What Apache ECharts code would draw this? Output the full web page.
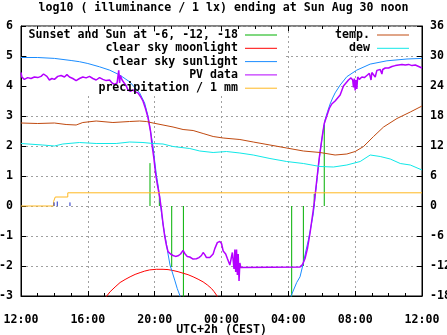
<!DOCTYPE html>
<html>
<head>
<meta charset="utf-8">
<script src="https://cdn.jsdelivr.net/npm/echarts@6/dist/echarts.min.js"></script>
<style>html,body{margin:0;padding:0;background:#fff}#c{width:447px;height:335px}</style>
</head>
<body>
<div id="c"></div>
<script>
// hours after 12:00 (Sat) -> value
const titleText = 'log10 ( illuminance / 1 lx) ending at Sun Aug 30 noon';
const xTickLabels = ['12:00','16:00','20:00','00:00','04:00','08:00','12:00'];
const xAxisName = 'UTC+2h (CEST)';

// sunset and sun at -6, -12, -18 (impulses from 0 to clear-sky value)
const sunEventHours = [7.72, 8.28, 9.02, 9.72, 16.2, 16.9, 17.55, 18.15];
const sunEventValues = [1.43, 0.45, -2.03, -3.5, -3.5, -2.0, 0.4, 2.7];

const moonData = [[5.0,-3.1],[5.13,-3.0],[5.33,-2.86],[5.63,-2.7],[5.93,-2.55],[6.23,-2.45],[6.53,-2.36],[6.83,-2.28],[7.13,-2.22],[7.4,-2.17],[7.7,-2.13],[8.1,-2.11],[8.5,-2.11],[8.8,-2.12],[9.1,-2.15],[9.4,-2.19],[9.7,-2.24],[10.0,-2.29],[10.3,-2.36],[10.6,-2.44],[10.9,-2.53],[11.15,-2.63],[11.4,-2.75],[11.55,-2.85],[11.7,-2.97],[11.8,-3.1]];

const sunEvening = [[0,4.95],[1,4.95],[2,4.92],[3,4.85],[3.5,4.81],[4,4.75],[4.7,4.64],[5.3,4.53],[5.9,4.37],[6.5,4.14],[7.1,3.77],[7.4,3.43],[7.6,3.0],[7.75,2.5],[7.9,2.0],[8.0,1.5],[8.1,1.05],[8.2,0.7],[8.3,0.3],[8.4,-0.2],[8.5,-0.6],[8.6,-0.95],[8.7,-1.25],[8.8,-1.6],[8.92,-1.97],[9.05,-2.2],[9.2,-2.47],[9.35,-2.75],[9.5,-2.97],[9.6,-3.2]];
const sunMorning = [[16.0,-3.3],[16.2,-2.95],[16.5,-2.55],[16.7,-2.36],[16.9,-1.9],[17.05,-1.5],[17.2,-1.13],[17.35,-0.7],[17.5,-0.24],[17.6,0.31],[17.7,0.8],[17.8,1.31],[17.9,1.8],[18.0,2.2],[18.1,2.55],[18.2,2.87],[18.35,3.15],[18.5,3.4],[18.65,3.6],[18.8,3.77],[19.1,4.03],[19.5,4.31],[20.1,4.53],[20.9,4.73],[21.9,4.84],[23.1,4.9],[24,4.92]];

const pvData = [[0,4.45],[0.05,4.3],[0.2,4.22],[0.4,4.28],[0.6,4.25],[0.8,4.3],[1.0,4.28],[1.2,4.32],[1.35,4.4],[1.45,4.45],[1.55,4.32],[1.7,4.2],[1.85,4.25],[2.0,4.22],[2.2,4.32],[2.4,4.35],[2.6,4.3],[2.75,4.38],[2.9,4.3],[3.1,4.25],[3.3,4.18],[3.5,4.25],[3.7,4.3],[3.9,4.27],[4.1,4.32],[4.3,4.25],[4.5,4.2],[4.7,4.28],[4.9,4.22],[5.1,4.18],[5.3,4.2],[5.45,4.1],[5.6,4.05],[5.75,4.1],[5.85,4.52],[5.9,4.1],[5.95,4.35],[6.05,4.2],[6.15,4.15],[6.3,4.0],[6.4,3.87],[6.55,3.82],[6.7,3.87],[6.85,3.8],[7.0,3.77],[7.15,3.65],[7.3,3.5],[7.45,3.25],[7.6,2.95],[7.75,2.5],[7.85,2.0],[7.95,1.6],[8.05,1.1],[8.15,0.75],[8.3,0.3],[8.4,-0.1],[8.5,-0.6],[8.6,-1.0],[8.7,-1.3],[8.8,-1.52],[8.95,-1.6],[9.1,-1.65],[9.25,-1.68],[9.4,-1.66],[9.55,-1.6],[9.7,-1.48],[9.8,-1.58],[9.95,-1.68],[10.1,-1.7],[10.3,-1.77],[10.5,-1.76],[10.65,-1.72],[10.8,-1.65],[10.9,-1.55],[11.0,-1.62],[11.1,-1.72],[11.3,-1.72],[11.4,-1.7],[11.5,-1.6],[11.6,-1.42],[11.75,-1.22],[11.9,-1.18],[12.0,-1.25],[12.1,-1.5],[12.25,-1.6],[12.35,-1.75],[12.5,-1.97],[12.55,-1.98],[12.65,-1.55],[12.7,-1.5],[12.75,-2.1],[12.8,-1.45],[12.85,-2.2],[12.9,-1.45],[12.95,-2.3],[13.0,-1.6],[13.05,-2.5],[13.1,-1.9],[13.15,-2.05],[16.7,-2.03],[16.85,-1.95],[17.0,-1.75],[17.15,-1.4],[17.3,-0.9],[17.45,-0.3],[17.55,0.1],[17.65,0.6],[17.75,1.1],[17.85,1.6],[17.95,2.0],[18.05,2.4],[18.15,2.75],[18.3,3.0],[18.45,3.25],[18.6,3.4],[18.8,3.5],[18.95,3.6],[19.1,3.7],[19.2,3.75],[19.3,4.0],[19.45,4.1],[19.6,4.2],[19.75,4.27],[19.85,4.2],[19.9,3.95],[19.95,4.25],[20.0,3.85],[20.05,4.2],[20.1,3.9],[20.15,4.3],[20.25,4.22],[20.4,4.3],[20.55,4.28],[20.7,4.35],[20.85,4.42],[20.95,4.2],[21.0,4.45],[21.1,4.5],[21.2,4.3],[21.3,4.52],[21.4,4.5],[21.5,4.55],[21.6,4.4],[21.65,4.55],[21.8,4.6],[22.0,4.6],[22.2,4.65],[22.4,4.68],[22.6,4.7],[22.8,4.72],[23.0,4.7],[23.2,4.72],[23.4,4.68],[23.6,4.7],[23.8,4.65],[24,4.6]];

const precipData = [[0,0],[1.95,0],[1.95,0.15],[2.05,0.15],[2.05,0.3],[2.8,0.3],[2.8,0.44],[24,0.44]];
const rainHours = [1.98, 2.17, 2.93];
const rainValues = [0.12, 0.15, 0.12];

const tempData = [[0,16.6],[1,16.5],[2,16.6],[2.7,16.3],[3.3,16.2],[3.7,16.7],[4.5,17.0],[5.5,16.7],[6.5,16.9],[7.1,17.0],[7.5,16.9],[7.9,16.6],[8.5,16.2],[9.1,15.8],[9.7,15.3],[10.3,15.1],[10.9,14.5],[11.5,13.9],[12.1,13.6],[13.1,13.3],[13.9,12.8],[14.9,12.2],[15.9,11.6],[16.9,11.0],[17.9,10.7],[18.8,10.2],[19.5,10.4],[20.0,10.9],[20.5,11.9],[21.1,13.9],[21.7,15.8],[22.5,17.5],[23.3,18.8],[24,20.0]];
const dewData = [[0,12.5],[1.3,12.2],[2,12.0],[2.5,12.4],[3.5,12.7],[4.5,12.5],[5.7,12.5],[6.5,12.8],[7.3,12.7],[7.9,12.5],[8.5,12.4],[9.1,11.9],[10.1,11.5],[10.7,11.0],[11.5,10.7],[12.3,10.9],[13.1,10.6],[13.9,10.2],[14.9,9.5],[15.9,8.9],[16.9,8.5],[17.9,7.9],[18.7,7.8],[19.5,8.2],[20.3,8.9],[20.9,10.2],[21.5,9.9],[22.1,9.4],[22.7,8.5],[23.3,8.2],[24,7.2]];

const names = ['Sunset and Sun at -6, -12, -18','clear sky moonlight','clear sky sunlight','PV data','precipitation / 1 mm','temp.','dew'];
const colors = ['#00b000','#ff0000','#1a8cff','#b400ff','#ffb820','#c04a10','#10e8e8'];

function impulses(hs, vs){ const out=[]; hs.forEach((h,i)=>{ out.push([h,0]); out.push([h,vs[i]]); out.push([h,'-']); }); return out; }

const FONT = '"DejaVu Sans Mono", monospace';
const fs = 11.6;
const chart = echarts.init(document.getElementById('c'), null, {renderer:'canvas'});

function lineSeries(name, data, color, extra){
  return Object.assign({name, type:'line', data, symbol:'none', showSymbol:false, color, lineStyle:{color, width:1}, clip:true, animation:false, connectNulls:false}, extra||{});
}

const legendRows = [
  {name:names[0], right:170, y:35},
  {name:names[1], right:170, y:48.3},
  {name:names[2], right:170, y:61.6},
  {name:names[3], right:170, y:74.9},
  {name:names[4], right:170, y:88.2},
  {name:names[5], right:38, y:35},
  {name:names[6], right:38, y:48.3}
];

const option = {
  animation:false,
  backgroundColor:'#fff',
  title:{text:titleText, left:'center', top:2, padding:0, textStyle:{fontFamily:FONT, fontSize:fs, fontWeight:'bold', color:'#000'}},
  grid:{left:21, right:25, top:26, bottom:39, show:true, borderColor:'#000', borderWidth:1, backgroundColor:'transparent', containLabel:false, outerBoundsMode:'none'},
  legend: legendRows.map(r=>({data:[r.name], right:r.right, top:r.y-6.5, orient:'vertical', align:'right', padding:0, icon:'rect', itemWidth:32, itemHeight:1, selectedMode:false,
    textStyle:{fontFamily:FONT, fontSize:fs, fontWeight:'bold', color:'#000', lineHeight:13, padding:[0,2,0,0]}})),
  graphic:{elements:[
    {type:'rect', shape:{x:27, y:32, width:257, height:62}, style:{fill:'#fff'}, z:1, silent:true},
    {type:'rect', shape:{x:300, y:32, width:116, height:22}, style:{fill:'#fff'}, z:1, silent:true}
  ]},
  xAxis:[
    {type:'value', min:0, max:24, interval:4, position:'bottom',
     axisLine:{onZero:false, lineStyle:{color:'#000'}},
     axisTick:{inside:true, length:5, lineStyle:{color:'#000'}},
     minorTick:{show:true, splitNumber:4, length:3, lineStyle:{color:'#000'}},
     splitLine:{show:true, lineStyle:{color:'#a0a0a0', type:[2,3], width:1}},
     axisLabel:{formatter:(v)=>xTickLabels[Math.round(v/4)], margin:18, fontFamily:FONT, fontSize:fs, fontWeight:'bold', color:'#000', showMinLabel:true, showMaxLabel:true},
     name:xAxisName, nameLocation:'middle', nameGap:28, nameMoveOverlap:false, nameTextStyle:{fontFamily:FONT, fontSize:fs, fontWeight:'bold', color:'#000'}},
    {type:'value', min:0, max:24, interval:4, position:'top',
     axisLine:{show:false, onZero:false},
     axisTick:{inside:true, length:5, lineStyle:{color:'#000'}},
     minorTick:{show:true, splitNumber:4, length:3, lineStyle:{color:'#000'}},
     splitLine:{show:false}, axisLabel:{show:false}}
  ],
  yAxis:[
    {type:'value', min:-3, max:6, interval:1, position:'left',
     axisLine:{show:true, onZero:false, lineStyle:{color:'#000'}},
     axisTick:{show:true, inside:true, length:5, lineStyle:{color:'#000'}},
     splitLine:{show:true, lineStyle:{color:'#a0a0a0', type:[2,3], width:1}},
     axisLabel:{margin:8, fontFamily:FONT, fontSize:fs, fontWeight:'bold', color:'#000'}},
    {type:'value', min:-18, max:36, interval:6, position:'right',
     axisLine:{show:true, onZero:false, lineStyle:{color:'#000'}},
     axisTick:{show:true, inside:true, length:5, lineStyle:{color:'#000'}},
     splitLine:{show:false},
     axisLabel:{margin:8, fontFamily:FONT, fontSize:fs, fontWeight:'bold', color:'#000'}}
  ],
  series:[
    lineSeries(names[0], impulses(sunEventHours, sunEventValues), colors[0]),
    lineSeries(names[1], moonData, colors[1]),
    lineSeries(names[2], sunEvening.concat([[9.7,'-']], sunMorning), colors[2]),
    lineSeries(names[3], pvData, colors[3], {lineStyle:{color:colors[3], width:1.5}}),
    lineSeries(names[4], precipData, colors[4]),
    lineSeries('rain', impulses(rainHours, rainValues), '#2030c8'),
    lineSeries(names[5], tempData, colors[5], {yAxisIndex:1}),
    lineSeries(names[6], dewData, colors[6], {yAxisIndex:1})
  ]
};
chart.setOption(option);
</script>
</body>
</html>
